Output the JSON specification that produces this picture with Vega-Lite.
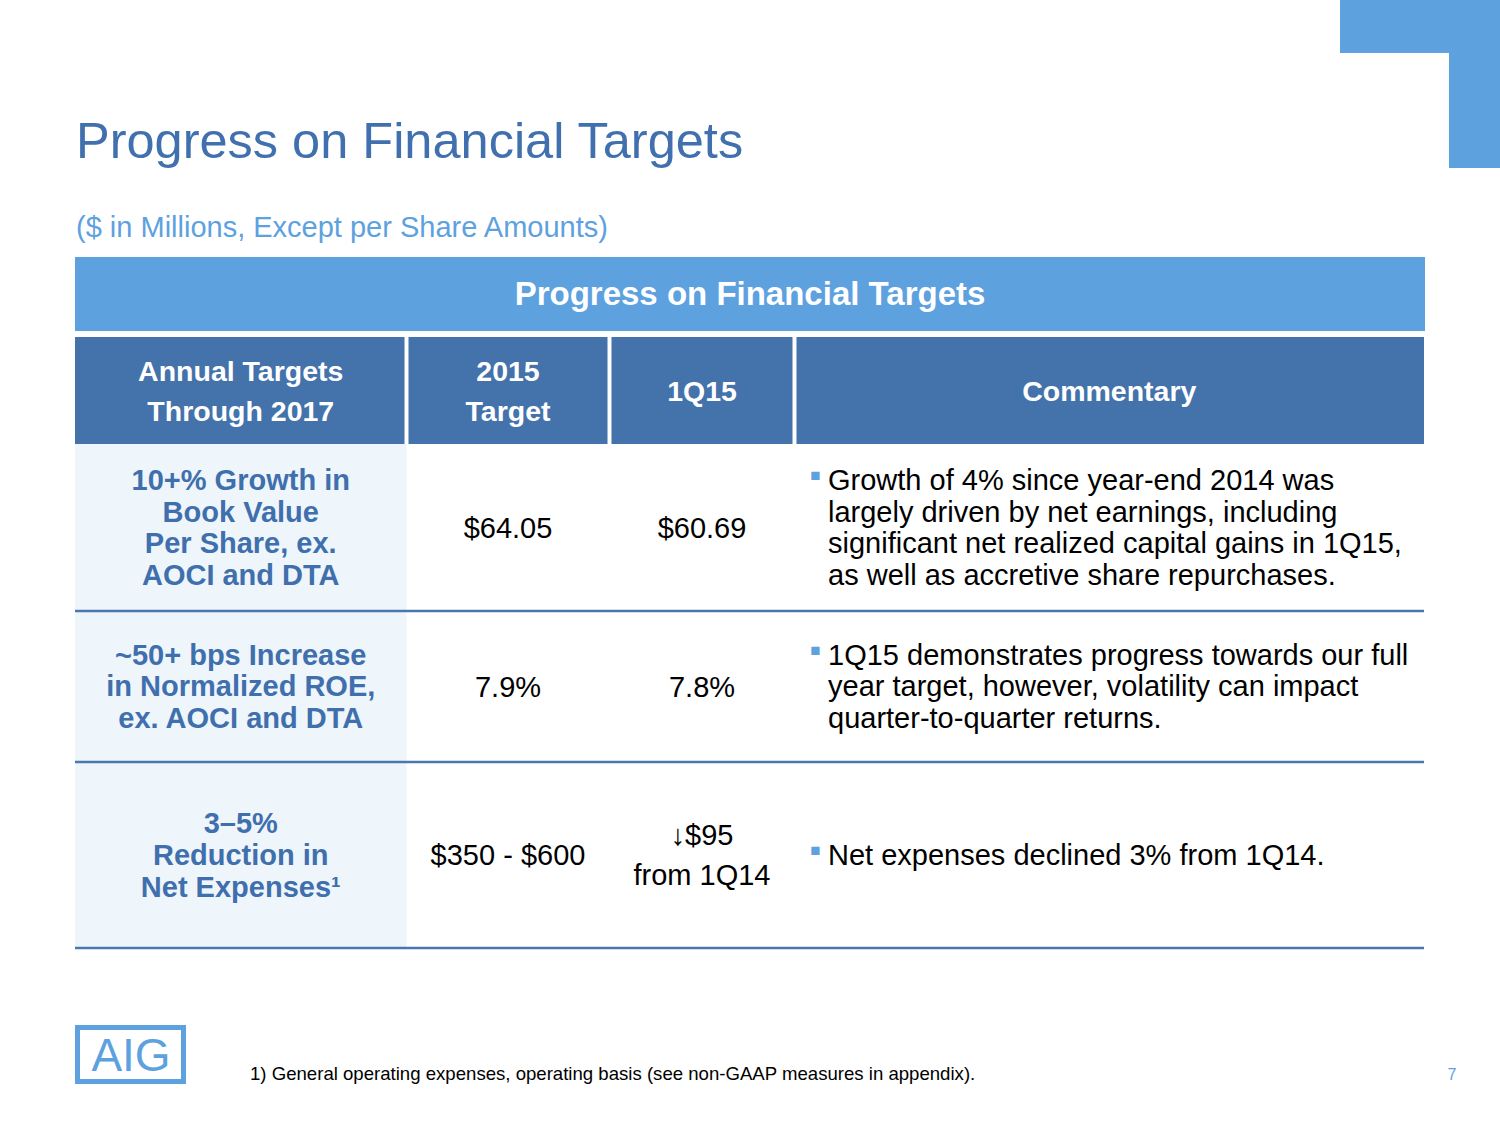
{
  "$schema": "https://vega.github.io/schema/vega-lite/v6.json",
  "width": 1500,
  "height": 1125,
  "autosize": "none",
  "padding": 0,
  "background": "white",
  "config": {"view": {"stroke": null}, "font": "Liberation Sans"},
  "datasets": {
    "cells": [
      {"r": 2, "c": 0, "kind": "header", "text": ["Annual Targets", "Through 2017"]},
      {"r": 2, "c": 1, "kind": "header", "text": ["2015", "Target"]},
      {"r": 2, "c": 2, "kind": "header", "text": ["1Q15"]},
      {"r": 2, "c": 3, "kind": "header", "text": ["Commentary"]},
      {"r": 3, "c": 0, "kind": "label", "text": ["10+% Growth in", "Book Value", "Per Share, ex.", "AOCI and DTA"]},
      {"r": 3, "c": 1, "kind": "value", "text": ["$64.05"]},
      {"r": 3, "c": 2, "kind": "value", "text": ["$60.69"]},
      {"r": 3, "c": 3, "kind": "comment", "text": ["Growth of 4% since year-end 2014 was", "largely driven by net earnings, including", "significant net realized capital gains in 1Q15,", "as well as accretive share repurchases."]},
      {"r": 4, "c": 0, "kind": "label", "text": ["~50+ bps Increase", "in Normalized ROE,", "ex. AOCI and DTA"]},
      {"r": 4, "c": 1, "kind": "value", "text": ["7.9%"]},
      {"r": 4, "c": 2, "kind": "value", "text": ["7.8%"]},
      {"r": 4, "c": 3, "kind": "comment", "text": ["1Q15 demonstrates progress towards our full", "year target, however, volatility can impact", "quarter-to-quarter returns."]},
      {"r": 5, "c": 0, "kind": "label", "text": ["3–5%", "Reduction in", "Net Expenses¹"]},
      {"r": 5, "c": 1, "kind": "value", "text": ["$350 - $600"]},
      {"r": 5, "c": 2, "kind": "value", "text": ["↓$95", "from 1Q14"]},
      {"r": 5, "c": 3, "kind": "comment", "text": ["Net expenses declined 3% from 1Q14."]}
    ]
  },
  "layer": [
    {
      "data": {"name": "cells"},
      "transform": [
        {"calculate": "datum.c + 1", "as": "c1"},
        {"calculate": "datum.r + 1", "as": "r1"},
        {"calculate": "datum.c + 0.5", "as": "xm"},
        {"calculate": "datum.r + 0.5", "as": "ym"},
        {"calculate": "length(datum.text)", "as": "n"}
      ],
      "encoding": {
        "y": {"field": "ym", "type": "quantitative", "axis": null, "scale": {"domain": [0, 1, 2, 3, 4, 5, 6], "range": [257, 331, 337, 444, 611, 762, 948], "zero": false, "nice": false}},
        "text": {"field": "text"}
      },
      "layer": [
        {
          "transform": [{"filter": "datum.kind === 'header' || datum.kind === 'label'"}],
          "mark": {"type": "rect"},
          "encoding": {
            "x": {"field": "c", "type": "quantitative", "axis": null, "scale": {"domain": [0, 1, 2, 3, 4], "range": [75, 406.5, 609.5, 794.5, 1424], "zero": false, "nice": false}},
            "x2": {"field": "c1"},
            "y": {"field": "r", "type": "quantitative"},
            "y2": {"field": "r1"},
            "text": null,
            "color": {"field": "kind", "type": "nominal", "legend": null, "scale": {"domain": ["header", "label"], "range": ["#4472AB", "#EEF5FB"]}}
          }
        },
        {
          "transform": [{"filter": "datum.kind === 'label'"}],
          "mark": {"type": "rule", "color": "#4A77AE", "strokeWidth": 2.5},
          "encoding": {
            "x": {"datum": 0, "type": "quantitative"},
            "x2": {"datum": 4},
            "y": {"field": "r1", "type": "quantitative"},
            "text": null
          }
        },
        {
          "transform": [{"filter": "datum.kind === 'header' && datum.c > 0"}],
          "mark": {"type": "rule", "color": "white", "strokeWidth": 4},
          "encoding": {
            "x": {"field": "c", "type": "quantitative"},
            "y": {"field": "r", "type": "quantitative"},
            "y2": {"field": "r1"},
            "text": null
          }
        },
        {
          "transform": [{"filter": "datum.kind === 'header' && datum.n === 1"}],
          "mark": {"type": "text", "fontWeight": "bold", "fontSize": 28.5, "lineHeight": 40, "color": "white", "align": "center", "baseline": "middle", "dy": 1},
          "encoding": {"x": {"field": "xm", "type": "quantitative"}}
        },
        {
          "transform": [{"filter": "datum.kind === 'header' && datum.n === 2"}],
          "mark": {"type": "text", "fontWeight": "bold", "fontSize": 28.5, "lineHeight": 40, "color": "white", "align": "center", "baseline": "middle", "dy": -19},
          "encoding": {"x": {"field": "xm", "type": "quantitative"}}
        },
        {
          "transform": [{"filter": "datum.kind === 'label' && datum.n === 3"}],
          "mark": {"type": "text", "fontWeight": "bold", "fontSize": 29, "lineHeight": 31.7, "color": "#3F6FAC", "align": "center", "baseline": "middle", "dy": -30.7},
          "encoding": {"x": {"field": "xm", "type": "quantitative"}}
        },
        {
          "transform": [{"filter": "datum.kind === 'label' && datum.n === 4"}],
          "mark": {"type": "text", "fontWeight": "bold", "fontSize": 29, "lineHeight": 31.7, "color": "#3F6FAC", "align": "center", "baseline": "middle", "dy": -46.55},
          "encoding": {"x": {"field": "xm", "type": "quantitative"}}
        },
        {
          "transform": [{"filter": "datum.kind === 'value' && datum.n === 1"}],
          "mark": {"type": "text", "fontSize": 29, "lineHeight": 40, "color": "black", "align": "center", "baseline": "middle", "dy": 1},
          "encoding": {"x": {"field": "xm", "type": "quantitative"}}
        },
        {
          "transform": [{"filter": "datum.kind === 'value' && datum.n === 2"}],
          "mark": {"type": "text", "fontSize": 29, "lineHeight": 40, "color": "black", "align": "center", "baseline": "middle", "dy": -19},
          "encoding": {"x": {"field": "xm", "type": "quantitative"}}
        },
        {
          "transform": [{"filter": "datum.kind === 'comment' && datum.n === 1"}],
          "mark": {"type": "text", "fontSize": 29, "lineHeight": 31.7, "color": "black", "align": "left", "baseline": "middle", "dx": 33.5, "dy": 1},
          "encoding": {"x": {"field": "c", "type": "quantitative"}}
        },
        {
          "transform": [{"filter": "datum.kind === 'comment' && datum.n === 3"}],
          "mark": {"type": "text", "fontSize": 29, "lineHeight": 31.7, "color": "black", "align": "left", "baseline": "middle", "dx": 33.5, "dy": -30.7},
          "encoding": {"x": {"field": "c", "type": "quantitative"}}
        },
        {
          "transform": [{"filter": "datum.kind === 'comment' && datum.n === 4"}],
          "mark": {"type": "text", "fontSize": 29, "lineHeight": 31.7, "color": "black", "align": "left", "baseline": "middle", "dx": 33.5, "dy": -46.55},
          "encoding": {"x": {"field": "c", "type": "quantitative"}}
        },
        {
          "transform": [{"filter": "datum.kind === 'comment' && datum.n === 1"}],
          "mark": {"type": "text", "fontSize": 17, "color": "#5DA1DF", "align": "center", "baseline": "middle", "dx": 21, "dy": -4, "text": "■"},
          "encoding": {"x": {"field": "c", "type": "quantitative"}, "text": null}
        },
        {
          "transform": [{"filter": "datum.kind === 'comment' && datum.n === 3"}],
          "mark": {"type": "text", "fontSize": 17, "color": "#5DA1DF", "align": "center", "baseline": "middle", "dx": 21, "dy": -35.7, "text": "■"},
          "encoding": {"x": {"field": "c", "type": "quantitative"}, "text": null}
        },
        {
          "transform": [{"filter": "datum.kind === 'comment' && datum.n === 4"}],
          "mark": {"type": "text", "fontSize": 17, "color": "#5DA1DF", "align": "center", "baseline": "middle", "dx": 21, "dy": -51.55, "text": "■"},
          "encoding": {"x": {"field": "c", "type": "quantitative"}, "text": null}
        }
      ]
    },
    {
      "data": {"values": [{"span": "table", "text": "Progress on Financial Targets"}]},
      "layer": [
        {
          "mark": {"type": "rect", "color": "#5DA1DF"},
          "encoding": {
            "x": {"field": "span", "type": "nominal", "axis": null, "scale": {"domain": ["table"], "range": [75, 1425], "paddingInner": 0, "paddingOuter": 0}},
            "y": {"datum": 0, "type": "quantitative"},
            "y2": {"datum": 1}
          }
        },
        {
          "mark": {"type": "text", "fontWeight": "bold", "fontSize": 33, "color": "white", "align": "center", "baseline": "middle", "dy": 1},
          "encoding": {
            "x": {"field": "span", "type": "nominal", "axis": null},
            "y": {"datum": 0.5, "type": "quantitative"},
            "text": {"field": "text"}
          }
        }
      ]
    },
    {
      "data": {"values": [{"text": "Progress on Financial Targets"}]},
      "mark": {"type": "text", "fontSize": 50.5, "color": "#4170AE", "align": "left", "baseline": "alphabetic"},
      "encoding": {"x": {"value": 76}, "y": {"value": 158}, "text": {"field": "text"}}
    },
    {
      "data": {"values": [{"text": "($ in Millions, Except per Share Amounts)"}]},
      "mark": {"type": "text", "fontSize": 29, "color": "#5DA1DF", "align": "left", "baseline": "alphabetic"},
      "encoding": {"x": {"value": 76}, "y": {"value": 237}, "text": {"field": "text"}}
    },
    {
      "data": {"values": [{"part": "corner"}]},
      "mark": {"type": "rect", "color": "#5DA1DF"},
      "encoding": {"x": {"value": 1340}, "x2": {"value": 1500}, "y": {"value": 0}, "y2": {"value": 53}}
    },
    {
      "data": {"values": [{"part": "corner"}]},
      "mark": {"type": "rect", "color": "#5DA1DF"},
      "encoding": {"x": {"value": 1449}, "x2": {"value": 1500}, "y": {"value": 0}, "y2": {"value": 168}}
    },
    {
      "data": {"values": [{"part": "logo"}]},
      "mark": {"type": "rect", "filled": false, "stroke": "#5DA1DF", "strokeWidth": 5},
      "encoding": {"x": {"value": 77.5}, "x2": {"value": 183.5}, "y": {"value": 1027.5}, "y2": {"value": 1081.5}}
    },
    {
      "data": {"values": [{"text": "AIG"}]},
      "mark": {"type": "text", "fontSize": 46, "color": "#5DA1DF", "align": "center", "baseline": "alphabetic"},
      "encoding": {"x": {"value": 131}, "y": {"value": 1071}, "text": {"field": "text"}}
    },
    {
      "data": {"values": [{"text": "1) General operating expenses, operating basis (see non-GAAP measures in appendix)."}]},
      "mark": {"type": "text", "fontSize": 18.6, "color": "black", "align": "left", "baseline": "alphabetic"},
      "encoding": {"x": {"value": 250}, "y": {"value": 1080}, "text": {"field": "text"}}
    },
    {
      "data": {"values": [{"text": "7"}]},
      "mark": {"type": "text", "fontSize": 16, "color": "#5DA1DF", "align": "center", "baseline": "alphabetic"},
      "encoding": {"x": {"value": 1452}, "y": {"value": 1080}, "text": {"field": "text"}}
    }
  ],
  "resolve": {"scale": {"x": "independent"}}
}
